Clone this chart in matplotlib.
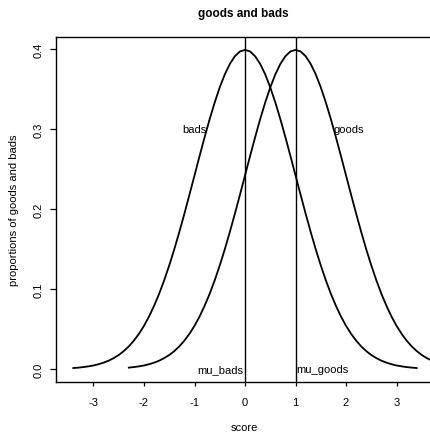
# Two normal score curves (bads and goods) with their means marked, R-style plot.
import matplotlib
matplotlib.use("Agg")
import matplotlib.pyplot as plt

plt.rcParams["font.family"] = ["Liberation Sans", "DejaVu Sans"]

# ── Data ─────────────────────────────────────────────────────────────────────

bads_x = [-3.4, -3.3, -3.2, -3.1, -3.0, -2.9, -2.8, -2.7, -2.6, -2.5, -2.4, -2.3,
          -2.2, -2.1, -2.0, -1.9, -1.8, -1.7, -1.6, -1.5, -1.4, -1.3, -1.2, -1.1,
          -1.0, -0.9, -0.8, -0.7, -0.6, -0.5, -0.4, -0.3, -0.2, -0.1, 0.0,
          0.1, 0.2, 0.3, 0.4, 0.5, 0.6, 0.7, 0.8, 0.9, 1.0, 1.1, 1.2, 1.3, 1.4,
          1.5, 1.6, 1.7, 1.8, 1.9, 2.0, 2.1, 2.2, 2.3, 2.4, 2.5, 2.6, 2.7, 2.8,
          2.9, 3.0, 3.1, 3.2, 3.3, 3.4]
bads_y = [0.0012, 0.0017, 0.0024, 0.0033, 0.0044, 0.0060, 0.0079, 0.0104, 0.0136,
          0.0175, 0.0224, 0.0283, 0.0355, 0.0440, 0.0540, 0.0656, 0.0790, 0.0940,
          0.1109, 0.1295, 0.1497, 0.1714, 0.1942, 0.2179, 0.2420, 0.2661, 0.2897,
          0.3123, 0.3332, 0.3521, 0.3683, 0.3814, 0.3910, 0.3970, 0.3989,
          0.3970, 0.3910, 0.3814, 0.3683, 0.3521, 0.3332, 0.3123, 0.2897, 0.2661,
          0.2420, 0.2179, 0.1942, 0.1714, 0.1497, 0.1295, 0.1109, 0.0940, 0.0790,
          0.0656, 0.0540, 0.0440, 0.0355, 0.0283, 0.0224, 0.0175, 0.0136, 0.0104,
          0.0079, 0.0060, 0.0044, 0.0033, 0.0024, 0.0017, 0.0012]

goods_x = [-2.3, -2.2, -2.1, -2.0, -1.9, -1.8, -1.7, -1.6, -1.5, -1.4, -1.3, -1.2,
           -1.1, -1.0, -0.9, -0.8, -0.7, -0.6, -0.5, -0.4, -0.3, -0.2, -0.1, 0.0,
           0.1, 0.2, 0.3, 0.4, 0.5, 0.6, 0.7, 0.8, 0.9, 1.0,
           1.1, 1.2, 1.3, 1.4, 1.5, 1.6, 1.7, 1.8, 1.9, 2.0, 2.1, 2.2, 2.3, 2.4,
           2.5, 2.6, 2.7, 2.8, 2.9, 3.0, 3.1, 3.2, 3.3, 3.4, 3.5, 3.6, 3.7, 3.8]
goods_y = [0.0017, 0.0024, 0.0033, 0.0044, 0.0060, 0.0079, 0.0104, 0.0136, 0.0175,
           0.0224, 0.0283, 0.0355, 0.0440, 0.0540, 0.0656, 0.0790, 0.0940, 0.1109,
           0.1295, 0.1497, 0.1714, 0.1942, 0.2179, 0.2420, 0.2661, 0.2897, 0.3123,
           0.3332, 0.3521, 0.3683, 0.3814, 0.3910, 0.3970, 0.3989,
           0.3970, 0.3910, 0.3814, 0.3683, 0.3521, 0.3332, 0.3123, 0.2897, 0.2661,
           0.2420, 0.2179, 0.1942, 0.1714, 0.1497, 0.1295, 0.1109, 0.0940, 0.0790,
           0.0656, 0.0540, 0.0440, 0.0355, 0.0283, 0.0224, 0.0175, 0.0136, 0.0104,
           0.0079]

mu_bads = 0.0
mu_goods = 1.0

x_ticks = [-3, -2, -1, 0, 1, 2, 3]
x_tick_labels = ["-3", "-2", "-1", "0", "1", "2", "3"]
y_ticks = [0.0, 0.1, 0.2, 0.3, 0.4]
y_tick_labels = ["0.0", "0.1", "0.2", "0.3", "0.4"]

# ── Figure ───────────────────────────────────────────────────────────────────

fig = plt.figure(figsize=(4.30, 4.35), dpi=100)
ax = fig.add_axes([0.1293, 0.1200, 0.8763, 0.7926])

ax.plot(bads_x, bads_y, color="black", lw=1.3)
ax.plot(goods_x, goods_y, color="black", lw=1.3)
ax.axvline(mu_bads, color="black", lw=1.0)
ax.axvline(mu_goods, color="black", lw=1.0)

fs = 8
ax.text(-1.0, 0.3, "bads", ha="center", va="center", fontsize=fs)
ax.text(2.05, 0.3, "goods", ha="center", va="center", fontsize=fs)
ax.text(mu_bads - 0.03, 0.0, "mu_bads", ha="right", va="center", fontsize=fs)
ax.text(mu_goods + 0.01, 0.0, "mu_goods", ha="left", va="center", fontsize=fs)

ax.set_xlim(-3.75, 3.71)
ax.set_ylim(-0.016, 0.415)
ax.set_xticks(x_ticks)
ax.set_xticklabels(x_tick_labels)
ax.set_yticks(y_ticks)
ax.set_yticklabels(y_tick_labels, rotation=90, va="center")
ax.tick_params(axis="x", direction="out", length=3, width=0.9, labelsize=fs, pad=7.6)
ax.tick_params(axis="y", direction="out", length=4, width=0.9, labelsize=fs, pad=4.7)

for s in ax.spines.values():
    s.set_linewidth(1.0)

ax.set_xlabel("score", fontsize=fs, labelpad=11)
ax.set_ylabel("proportions of goods and bads", fontsize=fs, labelpad=10.5)
fig.text(0.565, 0.968, "goods and bads", ha="center", va="center",
         fontsize=8.5, fontweight="bold")

fig.savefig("out.png", dpi=100)
